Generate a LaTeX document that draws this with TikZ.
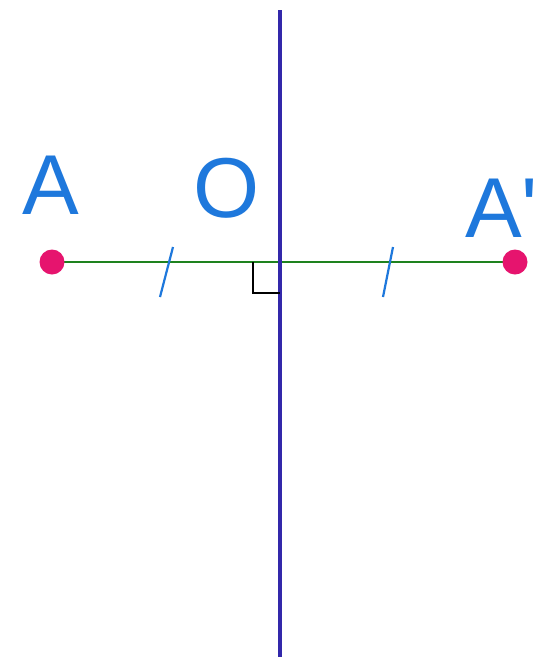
\documentclass[tikz,border=0pt]{standalone}
\usepackage{fontspec}
\setmainfont{Liberation Sans}
\definecolor{axisblue}{RGB}{50,40,170}
\definecolor{seggreen}{RGB}{30,130,30}
\definecolor{ptpink}{RGB}{230,20,110}
\definecolor{lblblue}{RGB}{30,120,220}
\definecolor{tickblue}{RGB}{30,120,220}
\begin{document}
\begin{tikzpicture}[x=1pt,y=-1pt,
  lbl/.style={text=lblblue,font=\fontsize{85}{85}\selectfont,inner sep=0pt,anchor=base west},
  pt/.style={circle,fill=ptpink,inner sep=0pt,minimum size=25pt},
  tickmark/.style={draw=tickblue,line width=2.2pt},
  ]
\useasboundingbox (0,0) rectangle (535,657);
\fill[white] (0,0) rectangle (535,657);
\coordinate (top) at (280,10);
\coordinate (bot) at (280,657);
\coordinate (O) at (280,262);
\draw[seggreen,line width=2.8pt] (52,262) coordinate (Apos) -- (515,262) coordinate (Bpos);
\draw[axisblue,line width=3.2pt] (top) -- (bot);
\draw[black,line width=2.2pt] (253,262) coordinate (r1) -- (253,293) coordinate (r2) -- (280,293) coordinate (r3);
\coordinate (t1a) at (160,297); \coordinate (t1b) at (173,247);
\coordinate (t2a) at (383,297); \coordinate (t2b) at (393,247);
\draw[tickmark] (t1a) -- (t1b);
\draw[tickmark] (t2a) -- (t2b);
\node[pt] (A) at (Apos) {};
\node[pt] (B) at (Bpos) {};
\node[lbl] (lA) at (22,214) {A};
\node[lbl] (lO) at (193,217) {O};
\node[lbl] (lB) at (465,237) {A\textquotesingle};
\end{tikzpicture}
\end{document}
